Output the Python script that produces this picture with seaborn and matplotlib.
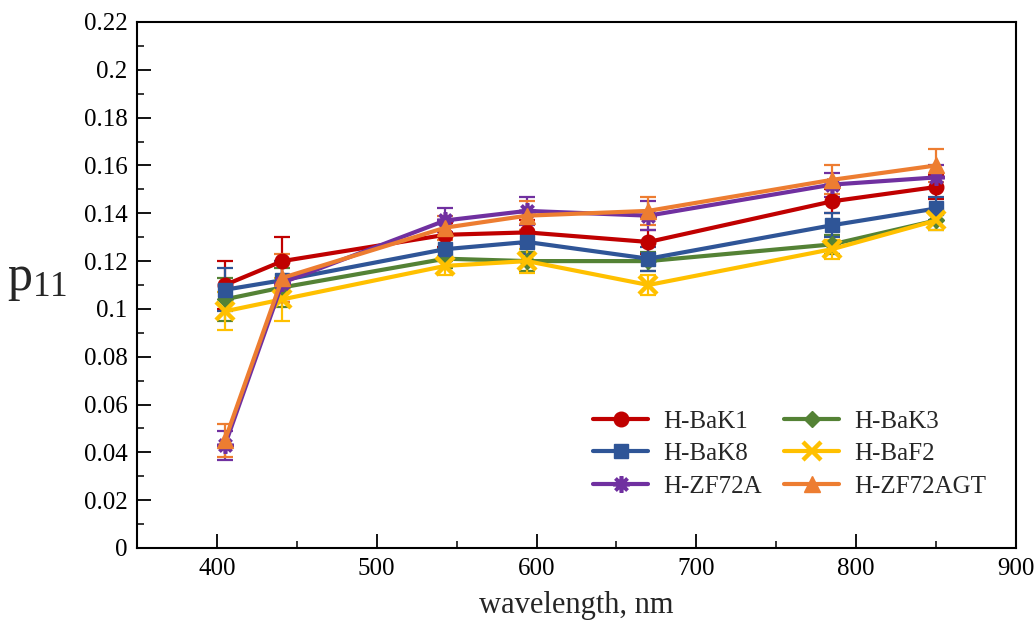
import numpy as np
import pandas as pd
import matplotlib
matplotlib.use("Agg")
import matplotlib.pyplot as plt
import seaborn as sns
from matplotlib.ticker import MultipleLocator

wavelength = [405, 441, 543, 594, 670, 785, 850]

bak1 = [0.110, 0.120, 0.131, 0.132, 0.128, 0.145, 0.151]
bak1_err = [0.010, 0.010, 0.005, 0.005, 0.005, 0.005, 0.005]
bak3 = [0.104, 0.109, 0.121, 0.120, 0.120, 0.127, 0.137]
bak3_err = [0.009, 0.008, 0.004, 0.004, 0.004, 0.004, 0.004]
bak8 = [0.108, 0.112, 0.125, 0.128, 0.121, 0.135, 0.142]
bak8_err = [0.009, 0.008, 0.005, 0.005, 0.005, 0.005, 0.005]
baf2 = [0.099, 0.104, 0.118, 0.120, 0.110, 0.125, 0.137]
baf2_err = [0.008, 0.009, 0.004, 0.005, 0.004, 0.004, 0.004]
zf72a = [0.043, 0.111, 0.137, 0.141, 0.139, 0.152, 0.155]
zf72a_err = [0.006, 0.008, 0.005, 0.006, 0.006, 0.005, 0.005]
zf72agt = [0.045, 0.113, 0.134, 0.139, 0.141, 0.154, 0.160]
zf72agt_err = [0.007, 0.010, 0.005, 0.006, 0.006, 0.006, 0.007]

names = ["H-BaK1", "H-BaK3", "H-BaK8", "H-BaF2", "H-ZF72A", "H-ZF72AGT"]
values = [bak1, bak3, bak8, baf2, zf72a, zf72agt]
errors = [bak1_err, bak3_err, bak8_err, baf2_err, zf72a_err, zf72agt_err]
colors = ["#C00000", "#548235", "#2F5597", "#FFC000", "#7030A0", "#ED7D31"]
markers = ["o", "D", "s", "x", (8, 2, 0), "^"]
msizes = [10.5, 8.5, 10, 13, 12, 11]
mews = [1, 1, 1, 3.2, 2.6, 1]

sns.set_theme(style="white")
plt.rcParams["font.family"] = ["Liberation Serif", "DejaVu Serif"]
plt.rcParams["mathtext.fontset"] = "custom"
plt.rcParams["mathtext.rm"] = "Liberation Serif"
plt.rcParams["mathtext.it"] = "Liberation Serif:italic"

fig = plt.figure(figsize=(10.35, 6.22), dpi=100)
ax = fig.add_axes([137 / 1035, 74 / 622, (1016 - 137) / 1035, (548 - 22) / 622])

handles = {}
for name, v, e, c, m, ms, mw in zip(names, values, errors, colors, markers, msizes, mews):
    df = pd.DataFrame({"wavelength": wavelength, "p11": v})
    ax.errorbar(df["wavelength"], df["p11"], yerr=e, fmt="none", ecolor=c,
                elinewidth=1.6, capsize=6, capthick=1.6, zorder=2)
    sns.lineplot(data=df, x="wavelength", y="p11", ax=ax, color=c, marker=m,
                 markersize=ms, markeredgecolor=c, markerfacecolor=c,
                 markeredgewidth=mw, linewidth=3.0, label=name, zorder=3,
                 legend=False)
    handles[name] = ax.get_lines()[-1]

ax.set_xlim(350, 900)
ax.set_ylim(0, 0.22)
ax.xaxis.set_major_locator(MultipleLocator(100))
ax.xaxis.set_minor_locator(MultipleLocator(50))
ax.yaxis.set_minor_locator(MultipleLocator(0.01))
ax.set_yticks(np.arange(0, 0.2201, 0.02))
ax.set_yticklabels(["0", "0.02", "0.04", "0.06", "0.08", "0.1", "0.12",
                    "0.14", "0.16", "0.18", "0.2", "0.22"])
ax.tick_params(axis="both", which="major", direction="in", length=10, width=1.3,
               labelsize=18, colors="black", pad=7)
ax.tick_params(axis="both", which="minor", direction="in", length=5, width=1.3)
ax.tick_params(top=False, right=False, left=True, bottom=True)
ax.tick_params(which="minor", top=False, right=False, left=True, bottom=True)
for sp in ax.spines.values():
    sp.set_color("black")
    sp.set_linewidth(1.5)

ax.set_xlabel("wavelength, nm", fontsize=22, labelpad=8)
ax.set_ylabel(r"$\mathrm{p}_{11}$", fontsize=36, rotation=0, va="center", ha="center")
ax.yaxis.set_label_coords(-0.114, 0.51)

order = ["H-BaK1", "H-BaK8", "H-ZF72A", "H-BaK3", "H-BaF2", "H-ZF72AGT"]
ax.legend([handles[n] for n in order], order, ncol=2, loc="upper left",
          bbox_to_anchor=(0.519, 0.262), frameon=False, fontsize=18,
          borderaxespad=0, borderpad=0,
          handlelength=2.2, columnspacing=0.9, labelspacing=0.4, handletextpad=0.6)

fig.savefig("out.png", dpi=100)
